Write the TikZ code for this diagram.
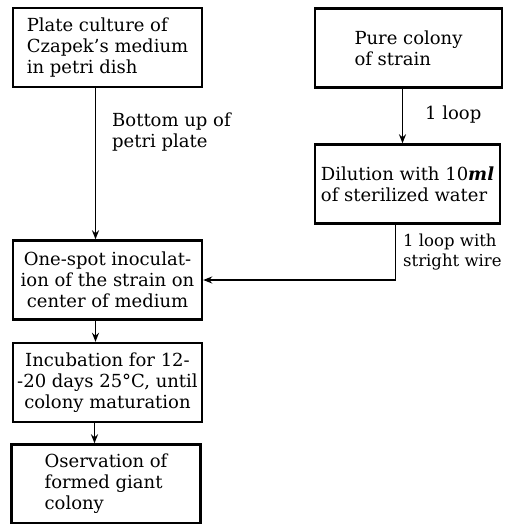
\documentclass[tikz,border=0pt]{standalone}
\usepackage{fontspec}
\setmainfont{DejaVu Serif}
\usetikzlibrary{arrows.meta}
\tikzset{
    box/.style={
        draw, line width=2.4pt, inner sep=2pt,
        minimum width=#1, minimum height=79pt,
        font=\fontsize{18}{21}\selectfont
    },
    box/.default=189pt,
    lbl/.style={
        anchor=north west, inner sep=0pt, align=left,
        font=\fontsize{18}{21}\selectfont
    },
    arr/.style={
        line width=1.4pt,
        -{Stealth[length=9pt,width=7pt]}
    }
}

\begin{document}
\begin{tikzpicture}[x=1pt,y=-1pt]
		\useasboundingbox (0,0) rectangle (508,524);

		% Left column
		\node[box, align=left] (plate) at (107.5,47.5) {Plate culture of\\Czapek's medium\\in petri dish};
		\node[box, align=center] (spot) at (107.5,280) {One-spot inoculat-\\ion of the strain on\\center of medium};
		\node[box, align=center] (incub) at (107.5,382.5) {Incubation for 12-\\-20 days 25°C, until\\colony maturation};
		\node[box, align=left] (obs) at (106,484) {Oservation of\\formed giant\\colony};

		% Right column
		\node[box=187pt, align=left] (pure) at (408.5,48) {Pure colony\\of strain};
		\node[box=185pt, align=left] (dil) at (407.5,184) {Dilution with 10{\bfseries\itshape ml}\\of sterilized water};

		% Connectors
		\draw[arr] ([xshift=-12pt]plate.south) -- ([xshift=-12pt]plate.south |- spot.north);
		\draw[arr] ([xshift=-6pt]pure.south) -- ([xshift=-6pt]pure.south |- dil.north);
		\draw[arr] ([xshift=-12pt]dil.south) |- (spot.east);
		\draw[arr] ([xshift=-12pt]spot.south) -- ([xshift=-12pt]spot.south |- incub.north);
		\draw[arr] ([xshift=-13pt]incub.south) -- ([xshift=-13pt]incub.south |- obs.north);

		% Labels
		\node[lbl] (bottom) at (112,113) {Bottom up of\\petri plate};
		\node[lbl] (loop) at (425,106) {1 loop};
		\node[lbl, font=\fontsize{16.5}{20}\selectfont] (wire) at (403,234) {1 loop with\\stright wire};

	\end{tikzpicture}
\end{document}
